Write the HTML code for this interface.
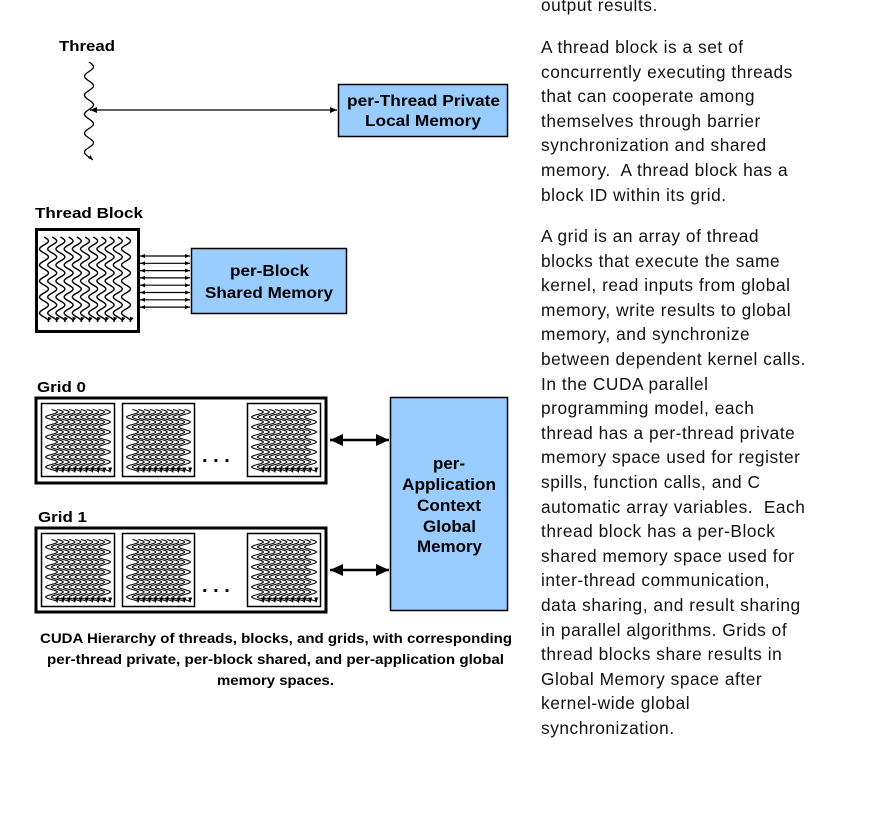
<!DOCTYPE html>
<html><head><meta charset="utf-8"><style>
body{margin:0;width:869px;height:815px;background:#fff;position:relative;overflow:hidden;font-family:"Liberation Sans",Arial,sans-serif}
.p{position:absolute;left:541px;font-size:17.3px;line-height:24.6px;color:#111;white-space:nowrap;letter-spacing:0.55px}
svg{position:absolute;left:0;top:0}
</style></head><body>
<div class="p" style="top:-7px">output results.</div>
<div class="p" style="top:35px">A thread block is a set of<br>concurrently executing threads<br>that can cooperate among<br>themselves through barrier<br>synchronization and shared<br>memory.&nbsp; A thread block has a<br>block ID within its grid.</div>
<div class="p" style="top:224px">A grid is an array of thread<br>blocks that execute the same<br>kernel, read inputs from global<br>memory, write results to global<br>memory, and synchronize<br>between dependent kernel calls.<br>In the CUDA parallel<br>programming model, each<br>thread has a per-thread private<br>memory space used for register<br>spills, function calls, and C<br>automatic array variables.&nbsp; Each<br>thread block has a per-Block<br>shared memory space used for<br>inter-thread communication,<br>data sharing, and result sharing<br>in parallel algorithms. Grids of<br>thread blocks share results in<br>Global Memory space after<br>kernel-wide global<br>synchronization.</div>
<svg id="s" width="530" height="815" xmlns="http://www.w3.org/2000/svg" font-family="Liberation Sans,Arial,sans-serif" font-weight="bold">
<defs>
<marker id="ah" markerWidth="8" markerHeight="8" refX="7" refY="4" orient="auto-start-reverse" markerUnits="userSpaceOnUse"><path d="M0,1 L7,4 L0,7 z" fill="#000"/></marker>
<marker id="ahs" markerWidth="6" markerHeight="6" refX="5" refY="3" orient="auto-start-reverse" markerUnits="userSpaceOnUse"><path d="M0,1 L5,3 L0,5 z" fill="#000"/></marker>
<marker id="ahb" markerWidth="14" markerHeight="14" refX="13" refY="7" orient="auto-start-reverse" markerUnits="userSpaceOnUse"><path d="M0,1 L13,7 L0,13 z" fill="#000"/></marker>
</defs>
<text x="59" y="51" font-size="15" textLength="56">Thread</text>
<rect x="338.5" y="84.5" width="169" height="52" fill="#99ccff" stroke="#000" stroke-width="1.5"/>
<text x="347" y="106" font-size="16" textLength="153">per-Thread Private</text>
<text x="365" y="126" font-size="16" textLength="116">Local Memory</text>
<line x1="90" y1="110" x2="337" y2="110" stroke="#000" stroke-width="1.2" marker-start="url(#ah)" marker-end="url(#ah)"/>
<text x="35" y="218" font-size="15" textLength="108">Thread Block</text>
<rect x="36.5" y="229.5" width="102" height="102" fill="#fff" stroke="#000" stroke-width="3"/>
<rect x="191.5" y="248.5" width="155" height="65" fill="#99ccff" stroke="#000" stroke-width="1.5"/>
<text x="230" y="276" font-size="16" textLength="79">per-Block</text>
<text x="205" y="298" font-size="16" textLength="128">Shared Memory</text>
<text x="37" y="392" font-size="15" textLength="49">Grid 0</text>
<rect x="36" y="398" width="290" height="85" fill="#fff" stroke="#000" stroke-width="3"/>
<text x="38" y="522" font-size="15" textLength="49">Grid 1</text>
<rect x="36" y="528" width="290" height="84" fill="#fff" stroke="#000" stroke-width="3"/>
<rect x="390.5" y="397.5" width="117" height="213" fill="#99ccff" stroke="#000" stroke-width="1.5"/>
<g font-size="16.5"><text x="433" y="469" textLength="32">per-</text><text x="402" y="490" textLength="94">Application</text><text x="417" y="511" textLength="64">Context</text><text x="423" y="532" textLength="53">Global</text><text x="417" y="552" textLength="65">Memory</text></g>
<line x1="330" y1="440" x2="389" y2="440" stroke="#000" stroke-width="2.5" marker-start="url(#ahb)" marker-end="url(#ahb)"/>
<line x1="330" y1="570" x2="389" y2="570" stroke="#000" stroke-width="2.5" marker-start="url(#ahb)" marker-end="url(#ahb)"/>
<g font-size="20"><text x="202" y="462">. . .</text><text x="202" y="592">. . .</text></g>
<g font-size="14"><text x="40" y="643" textLength="472">CUDA Hierarchy of threads, blocks, and grids, with corresponding</text><text x="47" y="664" textLength="457">per-thread private, per-block shared, and per-application global</text><text x="217" y="685" textLength="117">memory spaces.</text></g>
<g id="w"></g>
</svg>
<script>
document.querySelectorAll('text[textLength]').forEach(function(t){t.setAttribute('lengthAdjust','spacingAndGlyphs');});
var g=document.getElementById('w'),NS='http://www.w3.org/2000/svg';
function wave(x,y0,y1,amp,per,sw,mk){var d='M'+x+','+y0;for(var y=y0;y<=y1;y+=1){d+=' L'+(x+amp*Math.sin((y-y0)/per*2*Math.PI)).toFixed(2)+','+y;}
var p=document.createElementNS(NS,'path');p.setAttribute('d',d);p.setAttribute('fill','none');p.setAttribute('stroke','#000');p.setAttribute('stroke-width',sw);p.setAttribute('marker-end','url(#'+mk+')');g.appendChild(p);}
function line(x1,y,x2){var l=document.createElementNS(NS,'line');l.setAttribute('x1',x1);l.setAttribute('x2',x2);l.setAttribute('y1',y);l.setAttribute('y2',y);l.setAttribute('stroke','#000');l.setAttribute('stroke-width',1.2);l.setAttribute('marker-start','url(#ahs)');l.setAttribute('marker-end','url(#ahs)');g.appendChild(l);}
wave(89,62,160,4.5,19,1.3,'ahs');
for(var i=0;i<11;i++)wave(44+i*8.2,237,322,4.5,16,1.4,'ahs');
for(var i=0;i<8;i++)line(140,256+i*7.3,190);
function blk(x,y,w,h){var r=document.createElementNS(NS,'rect');r.setAttribute('x',x);r.setAttribute('y',y);r.setAttribute('width',w);r.setAttribute('height',h);r.setAttribute('fill','#fff');r.setAttribute('stroke','#000');r.setAttribute('stroke-width',1.5);g.appendChild(r);
for(var i=0;i<10;i++)wave(x+10+i*(w-20)/9,y+6,y+h-4,6,10,1,'ahs');}
[403,533].forEach(function(y){blk(41.5,y+.5,73,73);blk(122.5,y+.5,72,73);blk(247.5,y+.5,73,73);});
</script>
</body></html>
